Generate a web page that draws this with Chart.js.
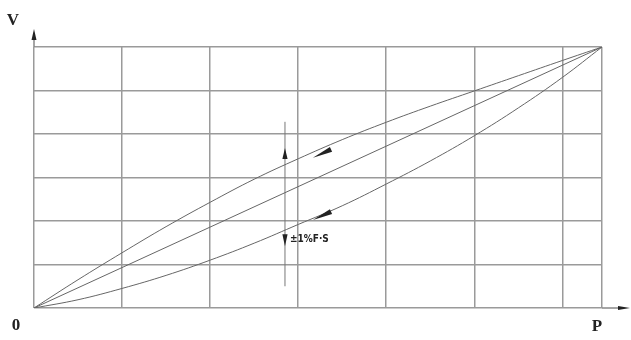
<!DOCTYPE html>
<html><head><meta charset="utf-8">
<script src="https://cdn.jsdelivr.net/npm/chart.js@4/dist/chart.umd.min.js"></script>
<style>html,body{margin:0;padding:0;background:#fff}#wrap{width:631px;height:340px;position:relative}</style>
</head><body><div id="wrap"><canvas id="c" width="631" height="340"></canvas></div>
<script>
// P axis (x) and V axis (y) grid ticks
const xTicks = [0, 1, 2, 3, 4, 5, 6, 6.45];
const yTicks = [0, 1, 2, 3, 4, 5, 6];
// curve samples (P values)
const pValues = [0, 0.5, 1, 1.5, 2, 2.5, 3, 3.5, 4, 4.5, 5, 5.5, 6, 6.45];
const upperV  = [0, 0.65, 1.27, 1.87, 2.43, 2.96, 3.43, 3.87, 4.27, 4.64, 4.99, 5.34, 5.69, 6];
const lowerV  = [0, 0.19, 0.45, 0.75, 1.10, 1.49, 1.92, 2.35, 2.85, 3.38, 3.96, 4.60, 5.30, 6];
const idealP  = [0, 6.45];
const idealV  = [0, 6];
// error bar (P position, V span)
const barP = [2.85, 2.85];
const barV = [0.5, 4.28];
// arrow marks: position and direction (degrees, canvas)
const arrowP   = [3.27, 3.27, 2.85, 2.85];
const arrowV   = [3.55, 2.12, 3.55, 1.56];
const arrowDir = [155, 155, -90, 90];
const arrowLen = [20, 20, 11, 12];
const noteText = '±1%F·S';
const axisLabels = ['V', '0', 'P'];

const pts = (xs, ys) => xs.map((x, i) => ({x, y: ys[i]}));
const curveColor = '#666';

const deco = {
  id: 'deco',
  afterDraw(chart) {
    const ctx = chart.ctx, a = chart.chartArea;
    const xs = chart.scales.x, ys = chart.scales.y;
    ctx.save();
    // axis extensions + arrows
    ctx.strokeStyle = '#888'; ctx.lineWidth = 1.5;
    ctx.beginPath();
    ctx.moveTo(a.left, a.top); ctx.lineTo(a.left, a.top - 8);
    ctx.moveTo(a.right, a.bottom); ctx.lineTo(a.right + 20, a.bottom);
    ctx.stroke();
    ctx.fillStyle = '#222';
    ctx.beginPath();
    ctx.moveTo(a.left, a.top - 18); ctx.lineTo(a.left - 2.5, a.top - 7); ctx.lineTo(a.left + 2.5, a.top - 7); ctx.closePath(); ctx.fill();
    ctx.beginPath();
    ctx.moveTo(a.right + 28, a.bottom); ctx.lineTo(a.right + 16, a.bottom - 2); ctx.lineTo(a.right + 16, a.bottom + 2); ctx.closePath(); ctx.fill();
    // arrow marks
    for (let i = 0; i < arrowP.length; i++) {
      const px = xs.getPixelForValue(arrowP[i]);
      const py = ys.getPixelForValue(arrowV[i]);
      const ang = arrowDir[i] * Math.PI / 180;
      const L = arrowLen[i], W = 2.6;
      const dx = Math.cos(ang), dy = Math.sin(ang);
      const tx = px + dx * L / 2, ty = py + dy * L / 2;
      const bx = px - dx * L / 2, by = py - dy * L / 2;
      ctx.beginPath();
      ctx.moveTo(tx, ty);
      ctx.lineTo(bx - dy * W, by + dx * W);
      ctx.lineTo(bx + dy * W, by - dx * W);
      ctx.closePath(); ctx.fill();
    }
    // texts
    ctx.fillStyle = '#222';
    ctx.textBaseline = 'middle'; ctx.textAlign = 'left';
    ctx.font = 'bold 10px "DejaVu Sans Condensed", "DejaVu Sans"';
    ctx.fillText(noteText, xs.getPixelForValue(arrowP[3]) + 5, ys.getPixelForValue(arrowV[3]) - 1);
    ctx.font = 'bold 17px "Liberation Serif"';
    ctx.textAlign = 'center';
    ctx.fillText(axisLabels[0], a.left - 21, a.top - 26);
    ctx.fillText(axisLabels[1], a.left - 18, a.bottom + 18);
    ctx.fillText(axisLabels[2], a.right - 5, a.bottom + 19);
    ctx.restore();
  }
};

const lineDs = (data, extra) => Object.assign({
  type: 'line', data, borderColor: curveColor, borderWidth: 1, pointRadius: 0,
  fill: false, tension: 0.4
}, extra || {});

new Chart(document.getElementById('c'), {
  type: 'scatter',
  data: {
    datasets: [
      lineDs(pts(pValues, upperV)),
      lineDs(pts(idealP, idealV), {tension: 0}),
      lineDs(pts(pValues, lowerV)),
      lineDs(pts(barP, barV), {borderColor: '#777', tension: 0})
    ]
  },
  options: {
    responsive: false, animation: false, devicePixelRatio: 1,
    layout: {padding: {left: 34, top: 47, right: 29, bottom: 32}},
    plugins: {legend: {display: false}, tooltip: {enabled: false}},
    scales: {
      x: {
        type: 'linear', min: 0, max: 6.45,
        afterBuildTicks: ax => { ax.ticks = xTicks.map(v => ({value: v})); },
        ticks: {display: false},
        grid: {color: '#9a9a9a', lineWidth: 1.5, drawTicks: false},
        border: {display: false}
      },
      y: {
        type: 'linear', min: 0, max: 6,
        afterBuildTicks: ax => { ax.ticks = yTicks.map(v => ({value: v})); },
        ticks: {display: false},
        grid: {color: '#9a9a9a', lineWidth: 1.5, drawTicks: false},
        border: {display: false}
      }
    }
  },
  plugins: [deco]
});
</script>
</body></html>
